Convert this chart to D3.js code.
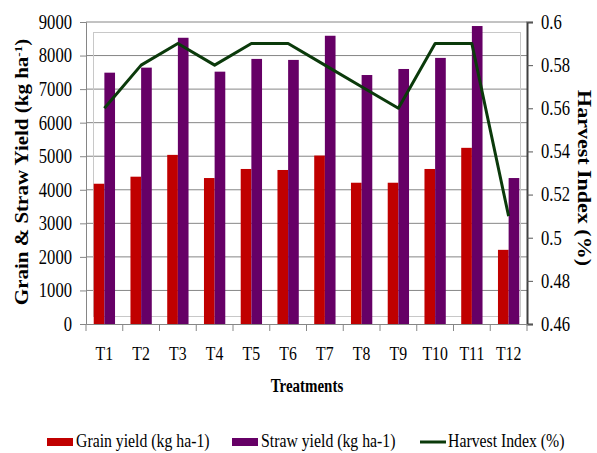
<!DOCTYPE html>
<html>
<head>
<meta charset="utf-8">
<script src="https://cdn.jsdelivr.net/npm/d3@7"></script>
<style>
  body { margin: 0; background: #fff; }
  svg text { font-family: "Liberation Serif", "Times New Roman", serif !important; fill: #000; }
</style>
</head>
<body>
<script>
// values
const treatments = ["T1", "T2", "T3", "T4", "T5", "T6", "T7", "T8", "T9", "T10", "T11", "T12"];
const grainYield = [4180, 4390, 5040, 4350, 4620, 4590, 5020, 4210, 4210, 4620, 5250, 2210];
const strawYield = [7490, 7640, 8530, 7520, 7900, 7870, 8590, 7420, 7600, 7930, 8880, 4350];
const harvestIndex = [0.56, 0.58, 0.59, 0.58, 0.59, 0.59, 0.58, 0.57, 0.56, 0.59, 0.59, 0.51];
const leftTicks = [0, 1000, 2000, 3000, 4000, 5000, 6000, 7000, 8000, 9000];
const rightTicks = [0.46, 0.48, 0.5, 0.52, 0.54, 0.56, 0.58, 0.6];

const width = 597, height = 453;
const plotL = 86, plotR = 527, plotT = 22, plotB = 324;
const squeezeK = 0.83; // reference text looks horizontally condensed

const svg = d3.select("body").append("svg")
    .attr("width", width)
    .attr("height", height);

// narrows a text selection by setting textLength
function squeeze(sel) {
  sel.each(function () {
    const w = this.getComputedTextLength();
    d3.select(this).attr("textLength", w * squeezeK).attr("lengthAdjust", "spacingAndGlyphs");
  });
}

const x = d3.scaleBand().domain(treatments).range([plotL, plotR]);
const y = d3.scaleLinear().domain([0, 9000]).range([plotB, plotT]);
const y2 = d3.scaleLinear().domain([0.46, 0.6]).range([plotB, plotT]);

// gridlines
svg.append("g")
  .selectAll("line")
  .data(leftTicks.slice(1))
  .enter().append("line")
    .attr("x1", plotL).attr("x2", plotR)
    .attr("y1", d => y(d)).attr("y2", d => y(d))
    .attr("stroke", "#868686").attr("stroke-width", 1);

// plot area frame
svg.append("rect")
    .attr("x", 93.5).attr("y", 32.5)
    .attr("width", 427).attr("height", 284)
    .attr("fill", "none").attr("stroke", "#c8c8c8").attr("stroke-width", 1);

// bars
const bw = x.bandwidth() * 0.29;
const bars = svg.append("g");
bars.selectAll(".grain")
  .data(treatments)
  .enter().append("rect")
    .attr("class", "grain")
    .attr("x", d => x(d) + x.bandwidth() / 2 - bw)
    .attr("y", (d, i) => y(grainYield[i]))
    .attr("width", bw)
    .attr("height", (d, i) => y(0) - y(grainYield[i]))
    .attr("fill", "#c00000");
bars.selectAll(".straw")
  .data(treatments)
  .enter().append("rect")
    .attr("class", "straw")
    .attr("x", d => x(d) + x.bandwidth() / 2)
    .attr("y", (d, i) => y(strawYield[i]))
    .attr("width", bw)
    .attr("height", (d, i) => y(0) - y(strawYield[i]))
    .attr("fill", "#660066");

// harvest index line
const line = d3.line()
    .x((d, i) => x(treatments[i]) + x.bandwidth() / 2)
    .y(d => y2(d));
svg.append("path")
    .datum(harvestIndex)
    .attr("d", line)
    .attr("fill", "none")
    .attr("stroke", "#0b3a0b")
    .attr("stroke-width", 3)
    .attr("stroke-linejoin", "round");

// left axis
const gl = svg.append("g")
    .attr("transform", `translate(${plotL},0)`)
    .call(d3.axisLeft(y).tickValues(leftTicks).tickSize(6).tickPadding(8).tickFormat(d3.format("d")));
gl.select(".domain").attr("stroke", "#868686");
gl.selectAll(".tick line").attr("stroke", "#868686");
gl.selectAll("text").attr("font-size", 20).call(squeeze);

// right axis
const gr = svg.append("g")
    .attr("transform", `translate(${plotR},0)`)
    .call(d3.axisRight(y2).tickValues(rightTicks).tickSize(6).tickPadding(8).tickFormat(d => String(+d.toFixed(2))));
gr.select(".domain").attr("stroke", "#404040").attr("stroke-width", 2);
gr.selectAll(".tick line").attr("stroke", "#555");
gr.selectAll("text").attr("font-size", 20).call(squeeze);

// bottom axis
const gb = svg.append("g")
    .attr("transform", `translate(0,${plotB})`)
    .call(d3.axisBottom(x).tickSize(0).tickPadding(23));
gb.select(".domain").attr("stroke", "#868686");
gb.selectAll("text").attr("font-size", 19).call(squeeze);
svg.append("g")
  .selectAll("line")
  .data(treatments.concat(["end"]))
  .enter().append("line")
    .attr("x1", (d, i) => plotL + i * x.step()).attr("x2", (d, i) => plotL + i * x.step())
    .attr("y1", plotB).attr("y2", plotB + 7)
    .attr("stroke", "#868686");

// axis titles
svg.append("text")
    .attr("transform", `translate(28,172) rotate(-90) scale(1,0.85)`)
    .attr("text-anchor", "middle")
    .attr("font-size", 21).attr("font-weight", "bold")
    .html('Grain &amp; Straw Yield (kg ha<tspan baseline-shift="super" font-size="13">-1</tspan>)');

svg.append("text")
    .attr("transform", `translate(578,178) rotate(90) scale(1,0.85)`)
    .attr("text-anchor", "middle")
    .attr("font-size", 22).attr("font-weight", "bold")
    .text("Harvest Index (%)");

svg.append("text")
    .attr("x", 307).attr("y", 392)
    .attr("text-anchor", "middle")
    .attr("font-size", 18).attr("font-weight", "bold")
    .text("Treatments")
    .call(squeeze);

// legend
const legend = [
  { label: "Grain yield (kg ha-1)", color: "#c00000", type: "rect", x: 47 },
  { label: "Straw yield (kg ha-1)", color: "#660066", type: "rect", x: 232 },
  { label: "Harvest Index (%)", color: "#0b3a0b", type: "line", x: 420 }
];
const lg = svg.append("g").selectAll("g").data(legend).enter().append("g")
    .attr("transform", d => `translate(${d.x},442)`);
lg.filter(d => d.type === "rect").append("rect")
    .attr("x", 0).attr("y", -4).attr("width", 26).attr("height", 8)
    .attr("fill", d => d.color);
lg.filter(d => d.type === "line").append("line")
    .attr("x1", 0).attr("x2", 26).attr("y1", 0).attr("y2", 0)
    .attr("stroke", d => d.color).attr("stroke-width", 3);
lg.append("text")
    .attr("x", d => d.type === "line" ? 28 : 29).attr("y", 5)
    .attr("font-size", 19)
    .text(d => d.label)
    .call(squeeze);
</script>
</body>
</html>
